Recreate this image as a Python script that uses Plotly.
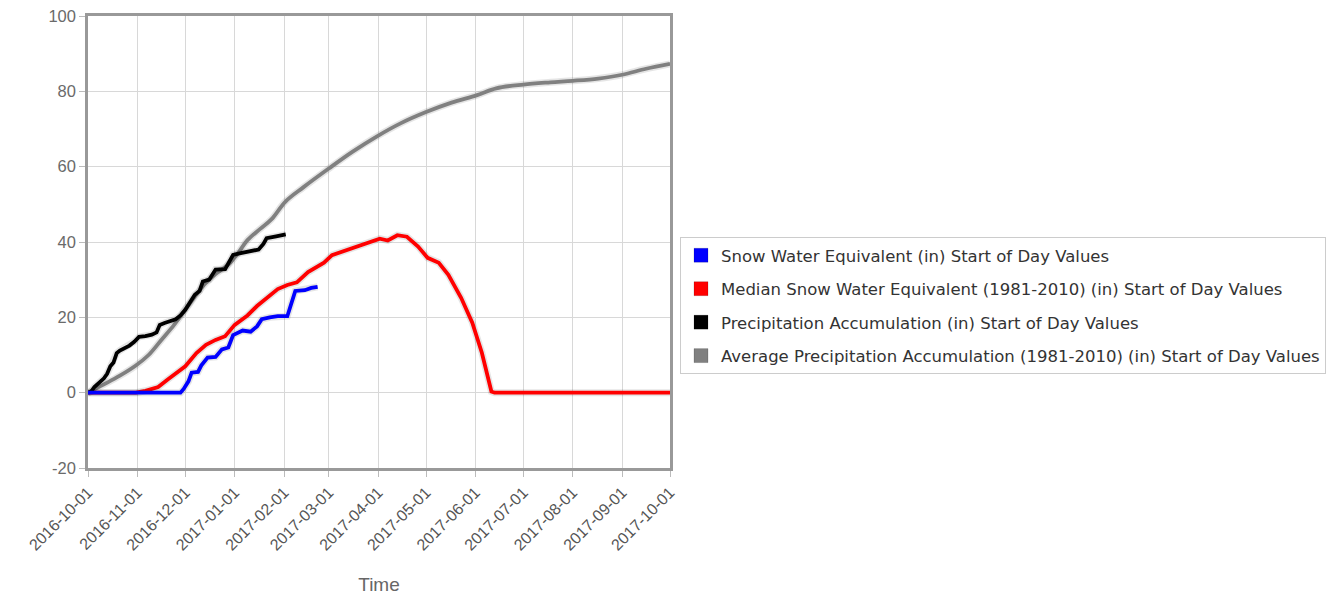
import pandas as pd
import plotly.graph_objects as go

START = "2016-10-01"

# Snow Water Equivalent (in) - day offsets from 2016-10-01 and values
swe_days = [0, 58, 60, 63, 65, 69, 71, 75, 80, 84, 88, 91, 97, 102, 106, 109, 114, 119, 125, 130, 136, 140, 144]
swe_vals = [0, 0, 1, 3, 5.3, 5.5, 7.2, 9.3, 9.5, 11.5, 12, 15.3, 16.5, 16.2, 17.6, 19.5, 20, 20.3, 20.3, 27, 27.2, 27.8, 28.1]

# Median Snow Water Equivalent (1981-2010)
med_days = [0, 30, 36, 44, 50, 56, 61, 68, 74, 80, 86, 92, 100, 106, 113, 119, 125, 131, 138, 148, 153,
            168, 177, 183, 188, 194, 200, 207, 213, 220, 226, 234, 241, 247, 253, 255, 365]
med_vals = [0, 0, 0.5, 1.5, 3.5, 5.5, 7, 10.5, 12.7, 14, 15, 18, 20.5, 23, 25.5, 27.5, 28.6, 29.3, 32, 34.5, 36.5,
            38.8, 40, 40.9, 40.4, 41.8, 41.4, 38.8, 35.8, 34.5, 31.3, 25.2, 18.6, 10.6, 0.3, 0, 0]

# Precipitation Accumulation (in)
pre_days = [0, 2, 4, 6, 8, 10, 12, 14, 16, 18, 20, 23, 26, 29, 32, 36, 40, 43, 45, 48, 52, 55, 58, 61, 64, 67,
            70, 72, 76, 80, 86, 89, 91, 95, 100, 107, 110, 112, 118, 124]
pre_vals = [0, 0.3, 1.5, 2.2, 3.0, 3.8, 5.0, 7.0, 8.0, 10.5, 11.2, 11.8, 12.5, 13.5, 14.8, 15.0, 15.4, 16.0, 18.0,
            18.5, 19.0, 19.5, 20.5, 22.0, 24.0, 26.0, 27.0, 29.5, 30.0, 32.7, 32.8, 35.0, 36.6, 37.0, 37.5, 38.0,
            39.5, 41.0, 41.5, 42.0]

# Average Precipitation Accumulation (1981-2010)
avg_days = [0, 10, 20, 30, 38, 46, 54, 61, 67, 73, 80, 88, 94, 100, 108, 115, 124, 135, 151, 166, 181, 196,
            212, 228, 244, 256, 273, 290, 304, 320, 335, 350, 365]
avg_vals = [0, 2.2, 4.5, 7.2, 10, 14, 18, 22, 25.5, 28.7, 31.5, 34, 37, 40.5, 43.5, 46, 50.8, 54.5, 59.5, 64, 68,
            71.5, 74.5, 77, 79, 80.8, 81.8, 82.4, 82.8, 83.4, 84.4, 86, 87.3]

tick_dates = ["2016-10-01", "2016-11-01", "2016-12-01", "2017-01-01", "2017-02-01", "2017-03-01", "2017-04-01",
              "2017-05-01", "2017-06-01", "2017-07-01", "2017-08-01", "2017-09-01", "2017-10-01"]
y_ticks = [-20, 0, 20, 40, 60, 80, 100]
y_tick_labels = ["-20", "0", "20", "40", "60", "80", "100"]

names = [
    "Snow Water Equivalent (in) Start of Day Values",
    "Median Snow Water Equivalent (1981-2010) (in) Start of Day Values",
    "Precipitation Accumulation (in) Start of Day Values",
    "Average Precipitation Accumulation (1981-2010) (in) Start of Day Values",
]
colors = ["#0000ff", "#ff0000", "#000000", "#808080"]
shapes = ["linear", "linear", "linear", "spline"]


def to_dates(days):
    return pd.Timestamp(START) + pd.to_timedelta(days, unit="D")


series = [
    (swe_days, swe_vals),
    (med_days, med_vals),
    (pre_days, pre_vals),
    (avg_days, avg_vals),
]

fig = go.Figure()

draw_order = [3, 1, 2, 0]
for i in draw_order:
    d, v = series[i]
    x = to_dates(d)
    fig.add_trace(go.Scatter(x=x, y=v, mode="lines", showlegend=False, hoverinfo="skip",
                             line=dict(color="rgba(0,0,0,0.10)", width=7, shape=shapes[i])))
    fig.add_trace(go.Scatter(x=x, y=v, mode="lines", showlegend=False, name=names[i],
                             line=dict(color=colors[i], width=3.8, shape=shapes[i])))

for i in range(4):
    fig.add_trace(go.Scatter(x=[None], y=[None], mode="markers", name=names[i],
                             legendgroup=f"g{i}",
                             marker=dict(symbol="square", size=14, color=colors[i],
                                         line=dict(color="rgba(0,0,0,0.15)", width=1))))

# page is drawn with an 8px body offset; plot area aims at x 88-670, y 16-468
fig.update_layout(
    width=1340, height=594,
    margin=dict(l=80, r=678, t=8, b=134),
    plot_bgcolor="white", paper_bgcolor="white",
    font=dict(family="Liberation Sans, Arial, sans-serif", color="#666666"),
    legend=dict(
        x=1.0172, xanchor="left", y=0.511, yanchor="top",
        bordercolor="#cccccc", borderwidth=1,
        font=dict(family="DejaVu Sans, Verdana, sans-serif", size=16.5, color="#333333"),
        tracegroupgap=9, traceorder="grouped", itemwidth=30,
    ),
)

fig.update_xaxes(
    type="date", range=[tick_dates[0], tick_dates[-1]],
    tickvals=tick_dates, ticktext=tick_dates, tickangle=-45,
    tickfont=dict(size=16, color="#555555"),
    showgrid=True, gridcolor="#d8d8d8", gridwidth=1,
    showline=True, linecolor="#999999", linewidth=2.5, mirror=True,
    ticks="outside", ticklen=6, tickcolor="#bbbbbb",
    title=dict(text="Time", font=dict(size=19, color="#666666"), standoff=26),
    zeroline=False, automargin=False, ticklabeloverflow="allow",
)
fig.update_yaxes(
    range=[-20, 100], tickvals=y_ticks, ticktext=y_tick_labels,
    tickfont=dict(size=16.5, color="#6a6a6a"),
    showgrid=True, gridcolor="#d8d8d8", gridwidth=1,
    showline=True, linecolor="#999999", linewidth=2.5, mirror=True,
    ticks="outside", ticklen=6, tickcolor="#bbbbbb",
    zeroline=False, automargin=False, ticklabeloverflow="allow",
)

fig.write_html("out.html")
